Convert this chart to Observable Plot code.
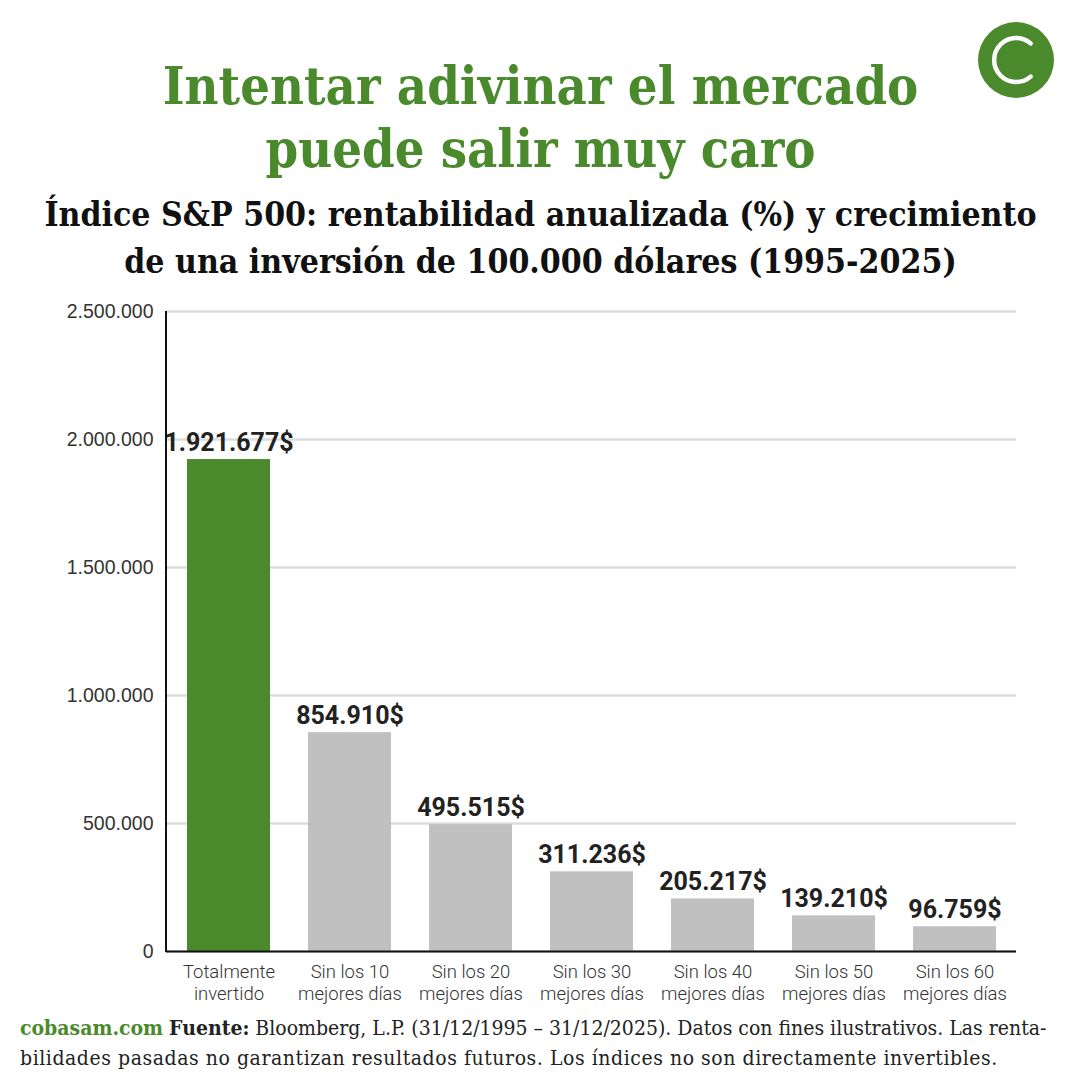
<!DOCTYPE html>
<html>
<head>
<meta charset="utf-8">
<script src="https://cdn.jsdelivr.net/npm/d3@7"></script>
<script src="https://cdn.jsdelivr.net/npm/@observablehq/plot@0.6"></script>
<style>
  html, body { margin: 0; padding: 0; background: #fff; }
  #page { position: relative; width: 1081px; height: 1081px; overflow: hidden; background: #fff; }
  .title { position: absolute; left: 0; width: 1081px; text-align: center; color: #4a8a2c;
           font-family: "DejaVu Serif Condensed", "DejaVu Serif", serif; font-weight: bold; font-size: 52px; line-height: 63px; top: 54px; }
  .subtitle { position: absolute; left: 0; width: 1081px; text-align: center; color: #111;
           font-family: "DejaVu Serif Condensed", "DejaVu Serif", serif; font-weight: bold; font-size: 33.5px; line-height: 47px; top: 191px; }
  #chart { position: absolute; left: 0; top: 290px; }
  .footer { position: absolute; left: 20px; top: 1013px; width: 1050px; color: #222; white-space: nowrap;
            font-family: "DejaVu Serif Condensed", "DejaVu Serif", serif; font-size: 21px; line-height: 30px; }
  .footer .brand { color: #4a8a2c; font-weight: bold; }
  .footer b { font-weight: bold; }
  .footer .l2 { letter-spacing: 0.55px; }
  #logo { position: absolute; left: 970px; top: 14px; }
</style>
</head>
<body>
<div id="page">
  <svg id="logo" width="92" height="92" viewBox="0 0 92 92">
    <circle cx="46" cy="46" r="38" fill="#4a8a2c"></circle>
    <path d="M 60.6 29.4 A 22 22 0 1 0 60.6 62.6" fill="none" stroke="#fff" stroke-width="4.5" stroke-linecap="round"></path>
  </svg>
  <div class="title">Intentar adivinar el mercado<br>puede salir muy caro</div>
  <div class="subtitle">Índice S&amp;P 500: rentabilidad anualizada (%) y crecimiento<br>de una inversión de 100.000 dólares (1995-2025)</div>
  <div id="chart"></div>
  <div class="footer"><span class="brand">cobasam.com</span> <b>Fuente:</b> Bloomberg, L.P. (31/12/1995 – 31/12/2025). Datos con fines ilustrativos. Las renta-<br><span class="l2">bilidades pasadas no garantizan resultados futuros. Los índices no son directamente invertibles.</span></div>
</div>
<script>
// Scenario labels (two lines each) and final value of 100.000 $ invested
const categories = [
  "Totalmente\ninvertido",
  "Sin los 10\nmejores días",
  "Sin los 20\nmejores días",
  "Sin los 30\nmejores días",
  "Sin los 40\nmejores días",
  "Sin los 50\nmejores días",
  "Sin los 60\nmejores días"
];
const values = [1921677, 854910, 495515, 311236, 205217, 139210, 96759];
const yTicks = [0, 500000, 1000000, 1500000, 2000000, 2500000];

const green = "#4a8a2c";
const grey = "#c0c0c0";

const es = d3.formatLocale({decimal: ",", thousands: ".", grouping: [3], currency: ["", "$"]});
const fmtNum = es.format(",.0f");

const data = categories.map((c, i) => ({cat: c, value: values[i], first: i === 0}));

const chart = Plot.plot({
  width: 1081,
  height: 715,
  marginLeft: 166,
  marginRight: 65,
  marginTop: 21,
  marginBottom: 54,
  style: {fontFamily: "Roboto, sans-serif", background: "transparent"},
  x: {domain: categories, paddingInner: 0.317, paddingOuter: 0.158, label: null},
  y: {domain: [0, 2500000], label: null},
  marks: [
    Plot.gridY(yTicks, {stroke: "#dcdcdc", strokeWidth: 2.5, strokeOpacity: 1}),
    Plot.barY(data, {x: "cat", y: "value", fill: d => d.first ? green : grey}),
    Plot.ruleY([0], {stroke: "#111", strokeWidth: 2}),
    Plot.axisY(yTicks, {
      tickSize: 0, tickPadding: 13, tickFormat: d => fmtNum(d), label: null,
      fontSize: 19.5, fill: "#333", fontFamily: "Liberation Sans, Arial, sans-serif"
    }),
    Plot.axisX({
      tickSize: 0, tickPadding: 12, label: null, fontSize: 18.5, fill: "#333",
      lineHeight: 1.14, fontWeight: 300
    }),
    Plot.text(data, {
      x: "cat", y: "value", text: d => fmtNum(d.value) + "$",
      lineAnchor: "bottom", dy: -9, fontSize: 25, fontWeight: "bold", fill: "#222",
      letterSpacing: -0.6
    })
  ]
});

// vertical axis line along the left edge of the frame
const svg = d3.select(chart);
svg.append("line")
  .attr("x1", 166).attr("x2", 166)
  .attr("y1", 21).attr("y2", 715 - 54 + 1)
  .attr("stroke", "#111").attr("stroke-width", 2);

document.getElementById("chart").appendChild(chart);
</script>
</body>
</html>
